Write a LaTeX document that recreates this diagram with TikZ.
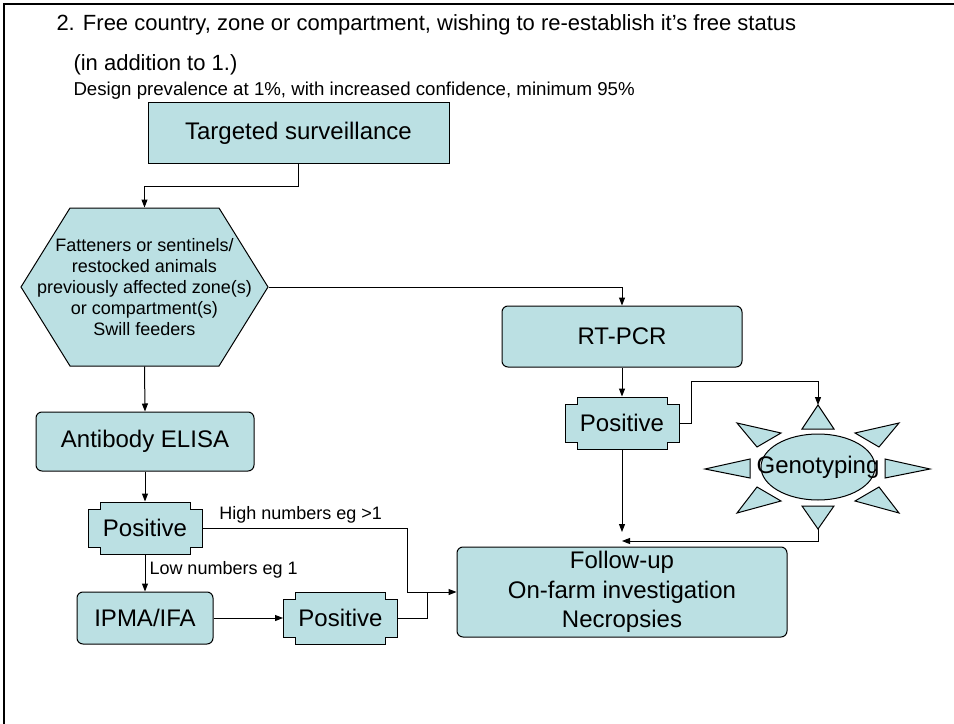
\documentclass[tikz,border=0pt]{standalone}
\usepackage{fontspec}
\setmainfont{Liberation Sans}
\usetikzlibrary{arrows.meta}

\definecolor{tealfill}{RGB}{187,224,227}
\newcommand{\titletext}{\fontsize{16.5}{20}\selectfont}
\newcommand{\smalltext}{\fontsize{14}{16}\selectfont}
\newcommand{\bigtext}{\fontsize{18}{22}\selectfont}
\newcommand{\midtext}{\fontsize{13.5}{15.75}\selectfont}

% notched "Positive" outline, centre (#1,#2)
\newcommand{\notchbox}[2]{%
  \draw[shapefill] ({#1-45},{#2-26}) -- ({#1+45},{#2-26}) -- ({#1+45},{#2-19}) -- ({#1+57},{#2-19}) -- ({#1+57},{#2+19}) -- ({#1+45},{#2+19}) -- ({#1+45},{#2+26}) -- ({#1-45},{#2+26}) -- ({#1-45},{#2+19}) -- ({#1-57},{#2+19}) -- ({#1-57},{#2-19}) -- ({#1-45},{#2-19}) -- cycle;}

\tikzset{every picture/.style={line width=0.75pt},
  shapefill/.style={draw, fill=tealfill},
  flowbox/.style={shapefill, inner sep=0pt, font=\bigtext, align=center},
  roundbox/.style={flowbox, rounded corners=4.5pt},
  plaintext/.style={inner sep=0pt, font=\bigtext, align=center},
  linktext/.style={inner sep=3pt, font=\midtext},
  arrowline/.style={-{Triangle[length=6pt,width=4.5pt]}}}

\begin{document}
\begin{tikzpicture}[x=0.75pt,y=0.75pt,yscale=-1,xscale=1]
\useasboundingbox (0,0) rectangle (954,724);

%Straight Lines: frame
\draw[line width=1.5pt] (954,4) -- (4,4) -- (4,724);

% Text Node
\node[anchor=base west, inner sep=0pt, font=\titletext] (title) at (56,31) {2. Free country, zone or compartment, wishing to re-establish it’s free status};
% Text Node
\node[anchor=base west, inner sep=0pt, font=\titletext] (title2) at (73,71) {(in addition to 1.)};
% Text Node
\node[anchor=base west, inner sep=0pt, font=\smalltext] (design) at (73,96) {Design prevalence at 1\%, with increased confidence, minimum 95\%};

%Shape: Hexagon
\draw[shapefill] (70,208) -- (219,208) -- (268,287) -- (219,366) -- (70,366) -- (21,287) -- cycle;

%Shape: Notched boxes
\notchbox{145}{528}
\notchbox{340.5}{618}
\notchbox{622}{423}

%Shape: Sun
\draw[shapefill] (818,467) ellipse [x radius=57, y radius=33];
\draw[shapefill] (818,405) -- (834,429) -- (802,429) -- cycle;
\draw[shapefill] (818,529) -- (834,506) -- (802,506) -- cycle;
\draw[shapefill] (705,469) -- (750,459) -- (750,478) -- cycle;
\draw[shapefill] (930,469) -- (885,459) -- (885,478) -- cycle;
\draw[shapefill] (737,423) -- (781,433) -- (757,447) -- cycle;
\draw[shapefill] (899,423) -- (855,433) -- (879,447) -- cycle;
\draw[shapefill] (737,513) -- (781,501) -- (757,487) -- cycle;
\draw[shapefill] (899,513) -- (855,501) -- (879,487) -- cycle;

% Nodes
\node[flowbox, minimum width=225.75pt, minimum height=45pt] (target) at (298.5,133) {Targeted surveillance};
\node[plaintext, font=\midtext, minimum width=185.25pt, minimum height=118.5pt] (stock) at (144.5,287) {Fatteners or sentinels/\\restocked animals\\previously affected zone(s)\\or compartment(s)\\Swill feeders};
\node[roundbox, minimum width=163.5pt, minimum height=44.25pt] (elisa) at (145,441.5) {Antibody ELISA};
\node[plaintext, minimum width=85.5pt, minimum height=39pt] (posElisa) at (145,528) {Positive};
\node[roundbox, minimum width=102pt, minimum height=39pt] (ipma) at (145,618) {IPMA/IFA};
\node[plaintext, minimum width=85.5pt, minimum height=39pt] (posIpma) at (340.5,618) {Positive};
\node[roundbox, minimum width=180pt, minimum height=45.75pt] (rtpcr) at (622,336.5) {RT-PCR};
\node[plaintext, minimum width=85.5pt, minimum height=39pt] (posPcr) at (622,423) {Positive};
\node[plaintext] (geno) at (818,467) {Genotyping};
\node[roundbox, minimum width=247.5pt, minimum height=67.5pt] (follow) at (622,592) {Follow-up\\On-farm investigation\\Necropsies};

\coordinate (genoTop) at (818,405);
\coordinate (genoBot) at (818,529);
\coordinate (join) at (407,592);
\coordinate (merge) at (427,592);
\coordinate (pcrEnd) at (622,532);
\coordinate (genoEnd) at (622,541);

% Connectors
\draw[arrowline] (target.south) -- ++(0,23) -| (stock.north);
\draw[arrowline] (stock.east) -| (rtpcr.north);
\draw[arrowline] (stock.south) -- (elisa.north);
\draw[arrowline] (elisa.south) -- (posElisa.north);
\draw[arrowline] (posElisa.south) -- node[linktext, anchor=west, pos=0.42] (low) {Low numbers eg 1} (ipma.north);
\draw[arrowline] (posElisa.east) -| node[linktext, anchor=south, pos=0.24] (high) {High numbers eg >1} (join) -- (follow.west);
\draw[arrowline] (ipma.east) -- (posIpma.west);
\draw (posIpma.east) -| (merge);
\draw[arrowline] (rtpcr.south) -- (posPcr.north);
\draw[arrowline] (posPcr.east) -- ++(12,0) -- ++(0,-42) -| (genoTop);
\draw[arrowline] (posPcr.south) -- (pcrEnd);
\draw[arrowline] (genoBot) |- (genoEnd);

\end{tikzpicture}
\end{document}
